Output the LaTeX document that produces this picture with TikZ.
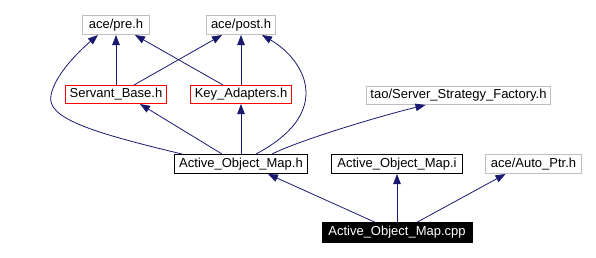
\documentclass[tikz,border=0pt]{standalone}
\usepackage{fontspec}
\setmainfont{Liberation Sans}
\usetikzlibrary{arrows.meta}
\definecolor{edgeblue}{HTML}{191970}
\definecolor{boxgray}{HTML}{BFBFBF}
\begin{document}
\begin{tikzpicture}[x=1pt,y=-1pt,
  every node/.style={font=\fontsize{13}{15}\selectfont, inner sep=0pt, minimum height=19pt, line width=1pt},
  extbox/.style={draw=boxgray},
  redbox/.style={draw=red},
  plainbox/.style={draw=black},
  rootbox/.style={draw=black, fill=black, text=white},
  edge/.style={draw=edgeblue, line width=0.8pt, -{Triangle[length=10pt,width=7.5pt]}}]
\useasboundingbox (0,0) rectangle (596,257);

% header files (borders placed on pixel centres)
\node[extbox, minimum width=67pt]  (pre)     at (116,25)  {ace/pre.h};
\node[extbox, minimum width=69pt]  (post)    at (241,25)  {ace/post.h};
\node[redbox, minimum width=101pt, minimum height=18pt] (servant) at (116,94.5) {Servant\_Base.h};
\node[redbox, minimum width=101pt, minimum height=18pt] (key)     at (241,94.5) {Key\_Adapters.h};
\node[extbox, minimum width=184pt, minimum height=18pt] (ssf)     at (458.5,95.5) {tao/Server\_Strategy\_Factory.h};
\node[plainbox, minimum width=133pt] (aomh)    at (241,164)   {Active\_Object\_Map.h};
\node[plainbox, minimum width=131pt] (aomi)    at (397,164)   {Active\_Object\_Map.i};
\node[extbox, minimum width=96pt]    (autoptr) at (533.5,164) {ace/Auto\_Ptr.h};
\node[rootbox, minimum width=150pt, minimum height=19.5pt] (cpp) at (397,232.5) {Active\_Object\_Map.cpp};

% include relations
\draw[edge] (servant.north) -- (servant.north |- pre.south);
\draw[edge] ([xshift=18pt]servant.north) -- ([xshift=-19pt]post.south);
\draw[edge] ([xshift=-18pt]key.north) -- ([xshift=19pt]pre.south);
\draw[edge] (key.north) -- (key.north |- post.south);

\draw[edge] ([xshift=-59pt]aomh.north) .. controls (90,132) and (46,118) .. (51,95)
  .. controls (55,75) and (78,52) .. ([xshift=-18pt]pre.south);
\draw[edge] ([xshift=15pt]aomh.north) .. controls (290,136) and (306,115) .. (306,93)
  .. controls (306,70) and (288,50) .. ([xshift=21pt]post.south);
\draw[edge] ([xshift=-19pt]aomh.north) -- ([xshift=24pt]servant.south);
\draw[edge] (aomh.north) -- (aomh.north |- key.south);
\draw[edge] ([xshift=31pt]aomh.north) .. controls (300,140) and (380,116) .. ([xshift=-33pt]ssf.south);

\draw[edge] ([xshift=-22pt]cpp.north) -- ([xshift=27pt]aomh.south);
\draw[edge] (cpp.north) -- (aomi.south);
\draw[edge] ([xshift=20pt]cpp.north) -- ([xshift=-28pt]autoptr.south);
\end{tikzpicture}
\end{document}
